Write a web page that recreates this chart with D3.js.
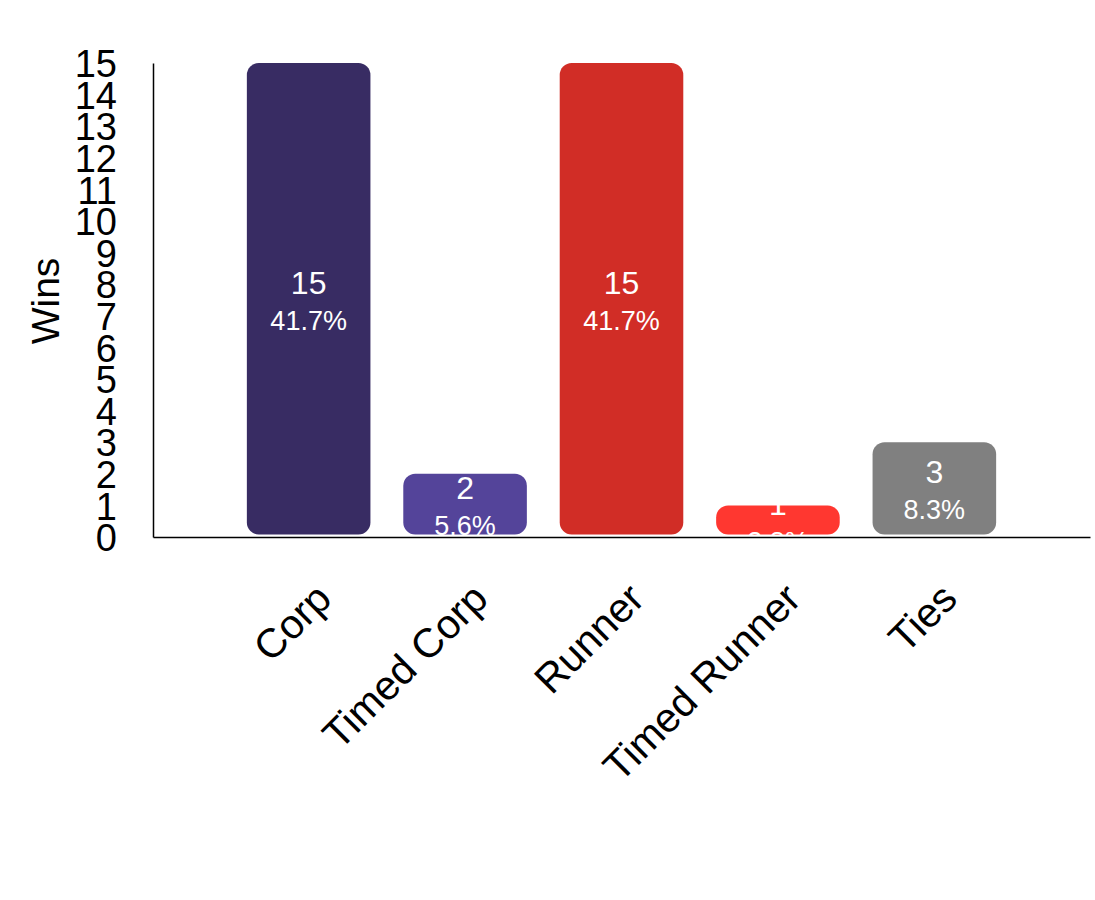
<!DOCTYPE html>
<html><head><meta charset="utf-8">
<script src="https://cdn.jsdelivr.net/npm/d3@7"></script>
<style>body{margin:0;background:#fff;font-family:"Liberation Sans",Arial,sans-serif;}</style>
</head><body>
<svg id="c" width="1095" height="900"></svg>
<script>
const categories = ["Corp", "Timed Corp", "Runner", "Timed Runner", "Ties"];
const wins = [15, 2, 15, 1, 3];
const percents = ["41.7%", "5.6%", "41.7%", "2.8%", "8.3%"];
const colors = ["#382c63", "#54449a", "#d12d26", "#ff3730", "#808080"];
const yTicks = [0,1,2,3,4,5,6,7,8,9,10,11,12,13,14,15];

(function(){
const svg = d3.select("#c");
const mLeft = 153, mRight = 1090, mTop = 63, mBottom = 537;
const x = d3.scaleBand().domain(categories).range([mLeft, mRight]).paddingInner(0.21).paddingOuter(0.6);
const y = d3.scaleLinear().domain([0, 15]).range([mBottom, mTop]);

const g = svg.append("g");
g.selectAll("rect.bar").data(categories).join("rect")
  .attr("class","bar")
  .attr("x", d => x(d))
  .attr("y", (d,i) => y(wins[i]))
  .attr("width", x.bandwidth())
  .attr("height", (d,i) => y(0) - y(wins[i]) - 2.5)
  .attr("rx", 12).attr("ry", 12)
  .attr("fill", (d,i) => colors[i]);

g.selectAll("text.val").data(categories).join("text")
  .attr("class","val")
  .attr("x", d => x(d) + x.bandwidth()/2)
  .attr("y", (d,i) => (y(wins[i]) + y(0) - 2.5)/2 - 5)
  .attr("text-anchor","middle")
  .attr("fill","#fff")
  .style("font-size","32px")
  .text((d,i) => wins[i]);

g.selectAll("text.pct").data(categories).join("text")
  .attr("class","pct")
  .attr("x", d => x(d) + x.bandwidth()/2)
  .attr("y", (d,i) => (y(wins[i]) + y(0) - 2.5)/2 + 31)
  .attr("text-anchor","middle")
  .attr("fill","#fff")
  .style("font-size","27px")
  .text((d,i) => percents[i]);

const yAxis = d3.axisLeft(y).tickValues(yTicks).tickSize(0).tickPadding(36);
const ya = svg.append("g").attr("transform", `translate(${mLeft},0)`).call(yAxis);
ya.select(".domain").attr("stroke","#000").attr("stroke-width",1.5);
ya.selectAll("text").style("font-size","38px").attr("fill","#000").attr("dy","0.36em")
  .style("font-family","'Liberation Sans',Arial,sans-serif");

const xAxis = d3.axisBottom(x).tickSize(0).tickPadding(0);
const xa = svg.append("g").attr("transform", `translate(0,${mBottom})`).call(xAxis);
xa.select(".domain").attr("stroke","#000").attr("stroke-width",1.5);
xa.selectAll("text")
  .style("font-size","41px").attr("fill","#000")
  .style("font-family","'Liberation Sans',Arial,sans-serif")
  .attr("text-anchor","end")
  .attr("dy", null)
  .attr("y", 0)
  .attr("transform","translate(25,64) rotate(-45)");

svg.append("text")
  .attr("transform","translate(59,301) rotate(-90)")
  .attr("text-anchor","middle")
  .style("font-size","39px")
  .text("Wins");
})();
</script>
</body></html>
